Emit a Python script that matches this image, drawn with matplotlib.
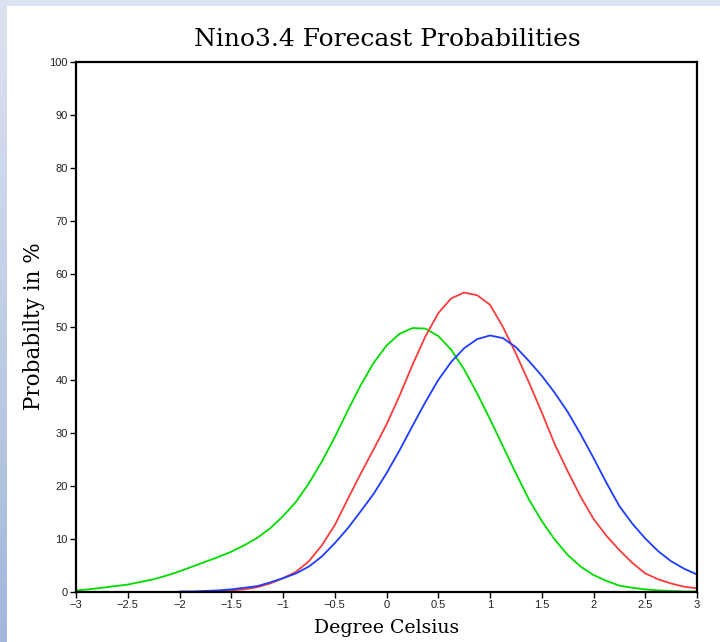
import numpy as np
import matplotlib
matplotlib.use('Agg')
import matplotlib.pyplot as plt
from matplotlib.patches import Rectangle

# Values (percent), shared x grid in deg C
temp = [-3.0, -2.875, -2.75, -2.625, -2.5, -2.375, -2.25, -2.125,
        -2.0, -1.875, -1.75, -1.625, -1.5, -1.375, -1.25, -1.125,
        -1.0, -0.875, -0.75, -0.625, -0.5, -0.375, -0.25, -0.125,
        0.0, 0.125, 0.25, 0.375, 0.5, 0.625, 0.75, 0.875,
        1.0, 1.125, 1.25, 1.375, 1.5, 1.625, 1.75, 1.875,
        2.0, 2.125, 2.25, 2.375, 2.5, 2.625, 2.75, 2.875, 3.0]

prob_green = [0.3, 0.5, 0.8, 1.1, 1.4, 1.9, 2.4, 3.1,
              3.9, 4.8, 5.7, 6.6, 7.6, 8.8, 10.2, 12.0,
              14.3, 17.0, 20.5, 24.6, 29.2, 34.2, 39.0, 43.2,
              46.5, 48.7, 49.8, 49.7, 48.3, 45.7, 42.0, 37.5,
              32.6, 27.5, 22.4, 17.5, 13.4, 9.9, 7.0, 4.8,
              3.2, 2.1, 1.2, 0.8, 0.5, 0.3, 0.2, 0.1, 0.1]

prob_red = [np.nan, np.nan, np.nan, np.nan, np.nan, np.nan, np.nan, np.nan,
            np.nan, np.nan, 0.1, 0.2, 0.3, 0.5, 0.9, 1.6,
            2.6, 3.8, 5.8, 8.8, 12.6, 17.5, 22.3, 26.9,
            31.6, 37.0, 42.8, 48.2, 52.6, 55.4, 56.5, 56.0,
            54.2, 50.0, 45.0, 39.6, 33.9, 27.9, 22.8, 18.0,
            13.8, 10.6, 7.9, 5.5, 3.5, 2.4, 1.6, 1.0, 0.7]

prob_blue = [np.nan, np.nan, np.nan, np.nan, np.nan, np.nan, np.nan, np.nan,
             0.1, 0.1, 0.2, 0.3, 0.5, 0.8, 1.1, 1.8,
             2.6, 3.5, 4.8, 6.7, 9.2, 12.0, 15.2, 18.5,
             22.4, 26.7, 31.3, 35.8, 40.0, 43.4, 46.0, 47.7,
             48.4, 47.9, 46.2, 43.6, 40.8, 37.6, 34.0, 29.8,
             25.3, 20.6, 16.2, 12.9, 10.1, 7.7, 5.8, 4.4, 3.3]

xticks = [-3, -2.5, -2, -1.5, -1, -0.5, 0, 0.5, 1, 1.5, 2, 2.5, 3]
xtick_labels = ['\u22123', '\u22122.5', '\u22122', '\u22121.5', '\u22121', '\u22120.5',
                '0', '0.5', '1', '1.5', '2', '2.5', '3']
yticks = [0, 10, 20, 30, 40, 50, 60, 70, 80, 90, 100]

W, H = 720, 642
fig = plt.figure(figsize=(W / 100, H / 100), dpi=100)
fig.patch.set_facecolor('white')

# page border: light strip on top, gradient strip on left
fig.add_artist(Rectangle((0, 1 - 6 / H), 1, 6 / H, transform=fig.transFigure,
                         facecolor='#dce3f0', edgecolor='none', zorder=0))
bax = fig.add_axes([0, 0, 7 / W, 1 - 6 / H])
grad = np.linspace(0, 1, 256)[:, None]
cmap = matplotlib.colors.LinearSegmentedColormap.from_list('edge', ['#dce3f0', '#a3b7dc'])
bax.imshow(grad, aspect='auto', cmap=cmap, extent=[0, 1, 0, 1], origin='upper')
bax.axis('off')

ax = fig.add_axes([76 / W, 50 / H, 621 / W, 530 / H])
ax.plot(temp, prob_green, color='#00dc00', lw=1.3)
ax.plot(temp, prob_red, color='#fa3c3c', lw=1.3)
ax.plot(temp, prob_blue, color='#1e3cff', lw=1.3)

ax.set_xlim(-3, 3)
ax.set_ylim(0, 100)
ax.set_xticks(xticks)
ax.set_xticklabels(xtick_labels)
ax.set_yticks(yticks)
for s in ax.spines.values():
    s.set_linewidth(1.6)
ax.tick_params(direction='out', length=4, width=1, pad=2,
               labelsize=8, labelcolor='#222222')
for lab in ax.get_xticklabels() + ax.get_yticklabels():
    lab.set_family('Liberation Sans')

fig.text(387 / W, 1 - 40 / H, 'Nino3.4 Forecast Probabilities',
         ha='center', va='center', family='DejaVu Serif', size=18)
fig.text(387 / W, 1 - 628 / H, 'Degree Celsius',
         ha='center', va='center', family='DejaVu Serif', size=13.6)
fig.text(34 / W, 1 - 326 / H, 'Probabilty in %', rotation=90,
         ha='center', va='center', family='DejaVu Serif', size=15.5)

fig.savefig('out.png', dpi=100)
